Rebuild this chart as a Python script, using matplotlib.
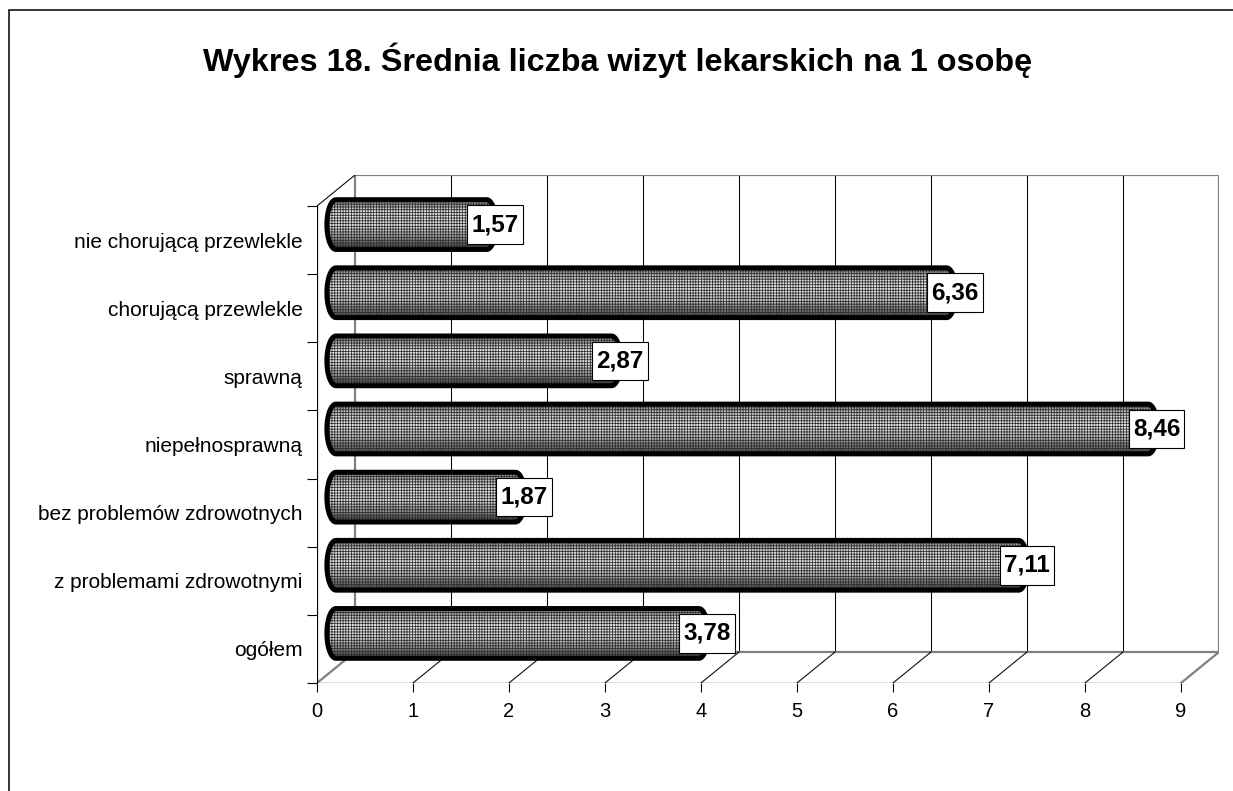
import numpy as np
import matplotlib.pyplot as plt
from matplotlib.patches import PathPatch, Rectangle
from matplotlib.path import Path

# ====================================
# dane
# ====================================

title = "Wykres 18. Średnia liczba wizyt lekarskich na 1 osobę"

categories = [
    "ogółem",
    "z problemami zdrowotnymi",
    "bez problemów zdrowotnych",
    "niepełnosprawną",
    "sprawną",
    "chorującą przewlekle",
    "nie chorującą przewlekle",
]
values = [3.78, 7.11, 1.87, 8.46, 2.87, 6.36, 1.57]
x_ticks = list(range(10))

# ====================================
# wygląd "3D" (jak w Excelu)
# ====================================

DEPTH_X = 0.396   # przesunięcie tylnej ściany w jednostkach osi x
DEPTH_Y = 0.455   # przesunięcie tylnej ściany w jednostkach kategorii
BAR_H = 0.73
CAP_RX = 0.095
GRAY = "#808080"

plt.rcParams["font.family"] = ["Liberation Sans", "DejaVu Sans"]
plt.rcParams["hatch.linewidth"] = 0.55

fig = plt.figure(figsize=(12.33, 7.91), dpi=100)
ax = fig.add_axes([317 / 1233, 108 / 791, 902 / 1233, 508 / 791])

n = len(categories)
x_max = x_ticks[-1]


def cylinder(x0, x1, yc, h, rx):
    t = np.linspace(np.pi / 2, -np.pi / 2, 40)
    right = np.column_stack([x1 + rx * np.cos(t), yc + h / 2 * np.sin(t)])
    t2 = np.linspace(-np.pi / 2, -3 * np.pi / 2, 40)
    left = np.column_stack([x0 + rx * np.cos(t2), yc + h / 2 * np.sin(t2)])
    verts = np.vstack([right, left, right[:1]])
    codes = [Path.MOVETO] + [Path.LINETO] * (len(verts) - 2) + [Path.CLOSEPOLY]
    return Path(verts, codes)


def label_box(x0, y0, width, height, mutation_size):
    px = 0.17 * mutation_size
    py = 0.32 * mutation_size
    x0, y0 = x0 - px, y0 - py
    w, h = width + 2 * px, height + 2 * py
    return Path([(x0, y0), (x0 + w, y0), (x0 + w, y0 + h), (x0, y0 + h), (x0, y0)],
                closed=True)


# tylna ściana
for k in x_ticks[1:-1]:
    ax.plot([k + DEPTH_X, k + DEPTH_X], [DEPTH_Y, n + DEPTH_Y],
            color="black", lw=0.75, zorder=1)
ax.plot([DEPTH_X, x_max + DEPTH_X, x_max + DEPTH_X, DEPTH_X, DEPTH_X],
        [DEPTH_Y, DEPTH_Y, n + DEPTH_Y, n + DEPTH_Y, DEPTH_Y],
        color=GRAY, lw=1.6, zorder=1)

# podłoga
for k in x_ticks:
    c = GRAY if k in (x_ticks[0], x_ticks[-1]) else "black"
    w = 1.6 if c == GRAY else 0.75
    ax.plot([k, k + DEPTH_X], [0, DEPTH_Y], color=c, lw=w, zorder=1)

# lewa ściana / osie
ax.plot([0, DEPTH_X], [n, n + DEPTH_Y], color="black", lw=0.75, zorder=1)
ax.plot([0, 0], [0, n], color="black", lw=0.9, zorder=2)
ax.plot([0, x_max], [0, 0], color="black", lw=0.9, zorder=2)

# walce
grad = np.array([0.5, 0.8, 0.9, 0.9, 0.85, 0.72, 0.5, 0.3]).reshape(-1, 1)
for i, v in enumerate(values):
    yc = i + 0.5 + DEPTH_Y / 2
    x0 = DEPTH_X / 2
    x1 = DEPTH_X / 2 + v
    path = cylinder(x0, x1, yc, BAR_H, CAP_RX)

    base = PathPatch(path, facecolor="none", edgecolor="none", zorder=3)
    ax.add_patch(base)
    im = ax.imshow(grad, extent=[x0 - CAP_RX, x1 + CAP_RX, yc - BAR_H / 2, yc + BAR_H / 2],
                   origin="upper", aspect="auto", cmap="gray", vmin=0, vmax=1,
                   interpolation="bicubic", zorder=3)
    im.set_clip_path(base)

    ax.add_patch(PathPatch(path, facecolor="none", edgecolor="#2e2e2e", lw=0,
                           hatch="++++++", zorder=4))
    ax.add_patch(PathPatch(path, facecolor="none", edgecolor="black", lw=3.6, zorder=5))

    ax.annotate(f"{v:.2f}".replace(".", ","), xy=(x1, yc), xytext=(6, 0),
                textcoords="offset points", ha="center", va="center",
                fontsize=17.5, fontweight="bold",
                bbox=dict(boxstyle=label_box, fc="white", ec="black", lw=0.8),
                zorder=6)

ax.set_xlim(0, x_max + DEPTH_X)
ax.set_ylim(0, n + DEPTH_Y)

for s in ax.spines.values():
    s.set_visible(False)

ax.set_xticks(x_ticks)
ax.set_xticklabels([str(t) for t in x_ticks])
ax.tick_params(axis="x", direction="out", length=6.5, width=0.8, pad=7,
               labelsize=14.5, colors="black")

ax.set_yticks(np.arange(n + 1))
ax.set_yticklabels([])
ax.set_yticks(np.arange(n) + 0.5, minor=True)
ax.set_yticklabels(categories, minor=True)
ax.tick_params(axis="y", which="major", direction="out", length=7.2, width=0.8)
ax.tick_params(axis="y", which="minor", length=0, pad=10.5, labelsize=15)

fig.text(617.5 / 1233, 1 - 60 / 791, title, ha="center", va="center",
         fontsize=23.3, fontweight="bold")

# ramka wykresu
fig.add_artist(Rectangle((9 / 1233, -0.1), 1.2, 1.1 - 10 / 791,
                         transform=fig.transFigure, fill=False,
                         edgecolor="black", lw=1.1))

fig.savefig("out.png", dpi=100)
